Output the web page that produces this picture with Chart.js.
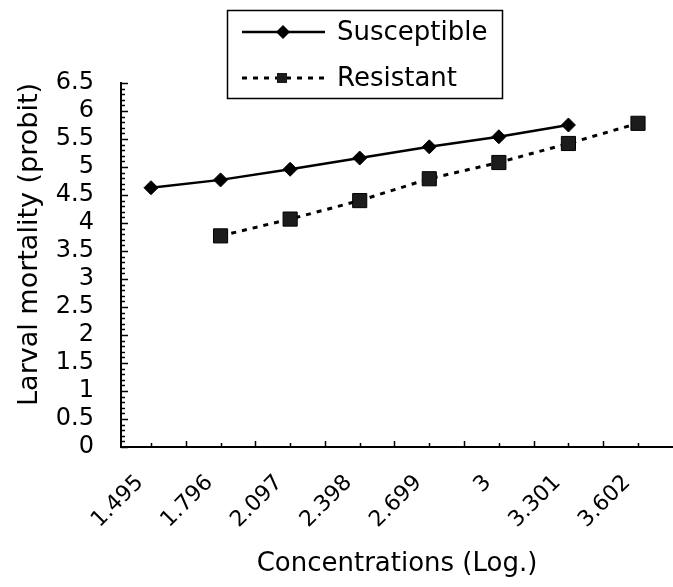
<!DOCTYPE html>
<html>
<head>
<meta charset="utf-8">
<script src="https://cdn.jsdelivr.net/npm/chart.js@4.4.1/dist/chart.umd.min.js"></script>
<style>
  html, body { margin: 0; padding: 0; background: #fff; }
  canvas { display: block; }
</style>
</head>
<body>
<canvas id="myChart" width="673" height="587"></canvas>
<script>
const labels = ['1.495', '1.796', '2.097', '2.398', '2.699', '3', '3.301', '3.602'];
const susceptible = [4.63, 4.77, 4.96, 5.16, 5.36, 5.54, 5.75, null];
const resistant = [null, 3.77, 4.07, 4.40, 4.79, 5.08, 5.42, 5.78];
const yTicks = [0, 0.5, 1, 1.5, 2, 2.5, 3, 3.5, 4, 4.5, 5, 5.5, 6, 6.5];

const FONT = '"DejaVu Sans", sans-serif';
const xValues = labels.map(l => parseFloat(l));
const step = xValues[1] - xValues[0];

function toPoints(values) {
  return values
    .map((v, i) => ({ x: xValues[i], y: v }))
    .filter(p => p.y !== null);
}

// small tick marks pointing into the plot, like the original
const tickMarks = {
  id: 'tickMarks',
  afterDraw(chart) {
    const { ctx, chartArea } = chart;
    const x = chart.scales.x;
    const y = chart.scales.y;
    ctx.save();
    ctx.strokeStyle = '#000';
    ctx.lineWidth = 1.5;
    ctx.beginPath();
    for (let i = 0; i <= yTicks[yTicks.length - 1] * 10; i++) {
      const py = Math.round(y.getPixelForValue(i / 10)) + 0.5;
      const len = i % 5 === 0 ? 7 : 4;
      ctx.moveTo(chartArea.left, py);
      ctx.lineTo(chartArea.left + len, py);
    }
    xValues.forEach(v => {
      const p1 = Math.round(x.getPixelForValue(v)) + 0.5;
      ctx.moveTo(p1, chartArea.bottom);
      ctx.lineTo(p1, chartArea.bottom - 4);
      const p2 = Math.round(x.getPixelForValue(v + step / 2)) + 0.5;
      if (p2 < chartArea.right) {
        ctx.moveTo(p2, chartArea.bottom);
        ctx.lineTo(p2, chartArea.bottom - 6);
      }
    });
    ctx.stroke();
    ctx.restore();
  }
};

// boxed legend with line samples
const boxLegend = {
  id: 'boxLegend',
  afterDraw(chart) {
    const ctx = chart.ctx;
    ctx.save();
    ctx.strokeStyle = '#000';
    ctx.lineWidth = 1.5;
    ctx.strokeRect(227.5, 10.5, 275, 88);
    chart.data.datasets.forEach((ds, i) => {
      const y = 32 + i * 46;
      ctx.beginPath();
      ctx.setLineDash(ds.borderDash || []);
      ctx.lineWidth = ds.borderWidth;
      ctx.strokeStyle = ds.borderColor;
      ctx.moveTo(242, y);
      ctx.lineTo(325, y);
      ctx.stroke();
      ctx.setLineDash([]);
      ctx.fillStyle = ds.pointBackgroundColor;
      ctx.beginPath();
      if (ds.pointStyle === 'rectRot') {
        ctx.moveTo(283, y - 7);
        ctx.lineTo(290, y);
        ctx.lineTo(283, y + 7);
        ctx.lineTo(276, y);
        ctx.closePath();
      } else {
        ctx.rect(277, y - 5, 10, 10);
      }
      ctx.fill();
      ctx.fillStyle = '#000';
      ctx.font = '26px ' + FONT;
      ctx.textBaseline = 'middle';
      ctx.fillText(ds.label, 337, y + 1);
    });
    ctx.restore();
  }
};

const data = {
  datasets: [{
    label: 'Susceptible',
    data: toPoints(susceptible),
    borderColor: '#000',
    borderWidth: 2.5,
    pointStyle: 'rectRot',
    pointRadius: 7,
    pointBackgroundColor: '#000',
    pointBorderColor: '#000',
    pointBorderWidth: 1
  }, {
    label: 'Resistant',
    data: toPoints(resistant),
    borderColor: '#000',
    borderWidth: 3,
    borderDash: [5, 6],
    pointStyle: 'rect',
    pointRadius: 10,
    pointBackgroundColor: '#1c1c1c',
    pointBorderColor: '#000',
    pointBorderWidth: 1
  }]
};

const config = {
  type: 'line',
  data: data,
  options: {
    responsive: false,
    animation: false,
    layout: { autoPadding: false, padding: { top: 83, left: 5, right: 0, bottom: 0 } },
    plugins: {
      legend: { display: false },
      tooltip: { enabled: false }
    },
    scales: {
      x: {
        type: 'linear',
        min: xValues[0] - 0.431 * step,
        max: xValues[0] + 7.503 * step,
        afterBuildTicks: scale => { scale.ticks = xValues.map(v => ({ value: v })); },
        afterFit: scale => {
          scale.height = 140;
          scale.paddingLeft = 0;
          scale.paddingRight = 0;
        },
        grid: { drawOnChartArea: false, drawTicks: false },
        border: { color: '#000', width: 2 },
        ticks: {
          autoSkip: false,
          minRotation: 45,
          maxRotation: 45,
          labelOffset: -11,
          padding: 23,
          color: '#000',
          font: { family: FONT, size: 22 },
          callback: (v, i) => labels[i]
        },
        title: {
          display: true,
          text: 'Concentrations (Log.)',
          color: '#000',
          font: { family: FONT, size: 26 },
          padding: { top: 0, bottom: 7 }
        }
      },
      y: {
        min: 0,
        max: 6.5,
        afterBuildTicks: scale => { scale.ticks = yTicks.map(v => ({ value: v })); },
        afterFit: scale => { scale.width = 116; },
        grid: { drawOnChartArea: false, drawTicks: false },
        border: { color: '#000', width: 2 },
        ticks: {
          autoSkip: false,
          padding: 27,
          color: '#000',
          font: { family: FONT, size: 24 },
          callback: v => String(v)
        },
        title: {
          display: true,
          text: 'Larval mortality (probit)',
          align: 'end',
          color: '#000',
          font: { family: FONT, size: 27 },
          padding: { top: 9, bottom: 0 }
        }
      }
    }
  },
  plugins: [tickMarks, boxLegend]
};

const myChart = new Chart(
  document.getElementById('myChart'),
  config
);
</script>
</body>
</html>
